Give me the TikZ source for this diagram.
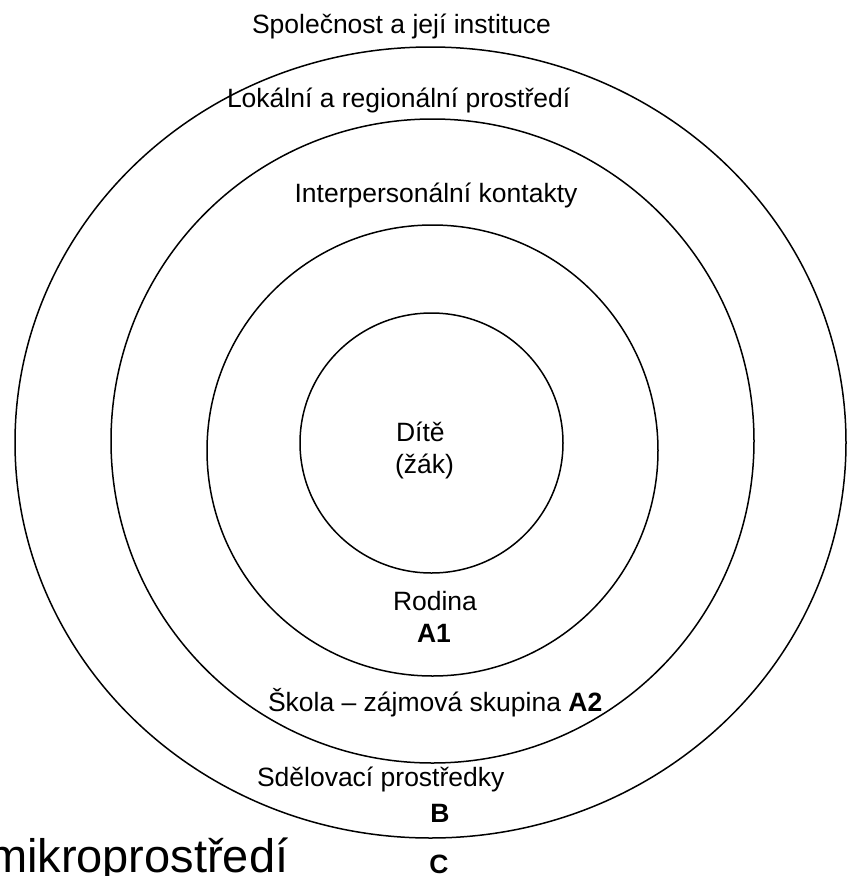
\documentclass[tikz,border=0pt]{standalone}
\usepackage{fontspec}
\setmainfont{Liberation Sans}
\begin{document}
\begin{tikzpicture}[x=1pt,y=-1pt,
  ring/.style={draw=black,line width=1.5pt},
  lbl/.style={inner sep=0pt,outer sep=0pt,font=\fontsize{26.5}{32}\selectfont},
  big/.style={inner sep=0pt,outer sep=0pt,font=\fontsize{47}{52}\selectfont}]
\clip (0,0) rectangle (847,876);
\fill[white] (0,0) rectangle (847,876);
% rings
\draw[ring] (430.5,442.5) ellipse [x radius=415.5, y radius=395.5];
\draw[ring] (432.5,441) ellipse [x radius=321.5, y radius=322];
\draw[ring] (432.5,450.5) ellipse [x radius=225.5, y radius=225.5];
\draw[ring] (431.5,443) ellipse [x radius=131.5, y radius=130];
% labels
\node[lbl,anchor=base west] (spol) at (252,33) {Společnost a její instituce};
\node[lbl,anchor=base west] (lok) at (227,107) {Lokální a regionální prostředí};
\node[lbl,anchor=base] (inter) at (436,202) {Interpersonální kontakty};
\node[lbl,anchor=base west] (dite) at (396,441.7) {Dítě};
\node[lbl,anchor=base west] (zak) at (395,473) {(žák)};
\node[lbl,anchor=base] (rod) at (435,610) {Rodina};
\node[lbl,anchor=base] (a1) at (434,642) {\bfseries A1};
\node[lbl,anchor=base west] (skola) at (268,711) {Škola – zájmová skupina \textbf{A2}};
\node[lbl,anchor=base west] (sdel) at (257,786) {Sdělovací prostředky};
\node[lbl,anchor=base] (b) at (440,822) {\bfseries B};
\node[lbl,anchor=base] (c) at (439,873) {\bfseries C};
\node[big,anchor=base west] (mikro) at (-12,872) {mikroprostředí};
\end{tikzpicture}
\end{document}
